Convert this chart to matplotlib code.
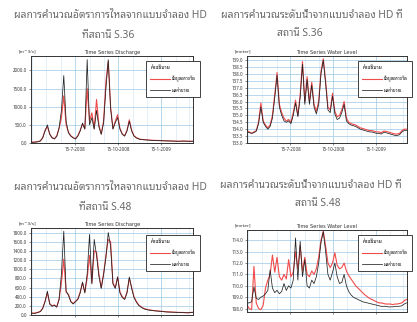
import numpy as np
import pandas as pd
import matplotlib
matplotlib.use("Agg")
import matplotlib.pyplot as plt
import matplotlib.dates as mdates

plt.rcParams['font.family'] = ['Noto Sans Thai Looped', 'Noto Sans Thai', 'Sarabun', 'DejaVu Sans']

# time axis: 5-day steps
dates = pd.date_range("2008-04-12", periods=70, freq="5D")

# S.36 discharge [m3/s]
q36_obs = [20, 25, 30, 40, 60, 150, 350, 450, 250, 150,
           120, 200, 400, 700, 1300, 500, 300, 200, 150, 120,
           200, 350, 520, 400, 1500, 600, 830, 400, 1200, 500,
           250, 600, 1700, 2250, 1000, 400, 600, 780, 400, 250,
           200, 350, 640, 350, 200, 150, 120, 100, 95, 90,
           85, 80, 75, 72, 70, 68, 65, 62, 60, 58,
           55, 52, 50, 48, 50, 55, 52, 50, 48, 50]
q36_sim = [15, 20, 25, 35, 55, 140, 330, 500, 240, 140,
           110, 180, 420, 900, 1860, 600, 280, 190, 140, 110,
           190, 330, 550, 380, 2300, 500, 700, 380, 900, 450,
           240, 550, 1500, 2300, 950, 380, 560, 700, 380, 240,
           190, 330, 600, 330, 190, 140, 110, 95, 90, 85,
           80, 75, 70, 68, 66, 64, 62, 60, 58, 56,
           54, 52, 50, 48, 50, 52, 50, 48, 47, 48]

# S.36 water level [m]
h36_obs = [133.9, 133.8, 133.7, 133.8, 133.9, 134.5, 135.9, 134.6, 134.3, 134.1,
           134.3, 135.0, 136.5, 138.1, 135.8, 135.2, 134.8, 134.6, 134.7, 134.5,
           135.2, 136.1, 135.0, 136.5, 138.9, 136.0, 137.8, 136.0, 137.4, 135.8,
           135.3, 136.0, 138.2, 139.1, 137.5, 135.6, 135.4, 136.6, 135.3, 134.9,
           135.0, 135.4, 136.0, 134.8, 134.5, 134.4, 134.35, 134.3, 134.2, 134.1,
           134.05, 134.0, 133.95, 133.9, 133.9, 133.85, 133.8, 133.8, 133.75, 133.85,
           133.85, 133.8, 133.75, 133.7, 133.65, 133.65, 133.7, 133.9, 134.0, 134.0]
h36_sim = [133.8, 133.75, 133.7, 133.75, 133.85, 134.4, 135.6, 134.5, 134.2, 134.0,
           134.2, 134.8, 136.3, 137.9, 135.6, 135.0, 134.6, 134.5, 134.6, 134.4,
           135.0, 135.9, 134.9, 136.3, 138.7, 135.8, 137.6, 135.8, 137.2, 135.6,
           135.1, 135.8, 138.0, 139.0, 137.3, 135.4, 135.2, 136.4, 135.1, 134.7,
           134.8, 135.2, 135.8, 134.6, 134.4, 134.3, 134.25, 134.2, 134.1, 134.0,
           133.95, 133.9, 133.85, 133.8, 133.8, 133.75, 133.7, 133.7, 133.65, 133.75,
           133.75, 133.7, 133.65, 133.6, 133.55, 133.55, 133.6, 133.8, 133.9, 133.9]

# S.48 discharge [m3/s]
q48_obs = [50, 40, 45, 60, 80, 150, 300, 480, 250, 200,
           220, 180, 350, 700, 1220, 500, 450, 300, 250, 300,
           350, 500, 700, 500, 800, 1300, 700, 1400, 1370, 900,
           600, 900, 1300, 1650, 1600, 700, 600, 830, 500, 400,
           350, 500, 800, 600, 400, 300, 220, 180, 150, 130,
           120, 110, 100, 95, 90, 85, 80, 75, 70, 68,
           65, 62, 60, 58, 55, 55, 52, 50, 55, 60]
q48_sim = [45, 35, 40, 55, 75, 140, 290, 520, 240, 190,
           210, 170, 340, 900, 1830, 520, 430, 290, 240, 290,
           340, 480, 720, 480, 900, 1760, 680, 1650, 1300, 850,
           580, 880, 1250, 1800, 1500, 680, 580, 830, 480, 380,
           340, 480, 830, 580, 380, 280, 210, 170, 140, 120,
           110, 100, 95, 90, 85, 80, 75, 70, 66, 64,
           62, 60, 58, 56, 54, 52, 50, 48, 52, 56]

# S.48 water level [m]
h48_obs = [108.3, 108.0, 107.9, 111.7, 108.5, 108.0, 107.9, 108.3, 109.8, 110.5,
           111.0, 112.7, 111.2, 112.5, 110.8, 110.5, 111.0, 110.6, 112.3, 110.8,
           111.2, 113.0, 111.5, 113.5, 111.3, 112.5, 111.0, 110.8, 111.3, 111.0,
           111.5, 112.5, 114.0, 114.8, 113.5, 112.0, 111.6, 112.0, 112.9, 111.8,
           111.5, 111.6, 112.0, 111.3, 110.9, 110.6, 110.3, 110.0, 109.8, 109.6,
           109.4, 109.2, 109.05, 108.9, 108.8, 108.7, 108.6, 108.5, 108.5, 108.45,
           108.4, 108.4, 108.4, 108.35, 108.4, 108.4, 108.45, 108.5, 108.7, 108.8]
h48_sim = [108.5, 108.5, 108.6, 109.9, 108.9, 108.8, 109.0, 109.1, 109.3, 109.6,
           111.4, 109.8, 109.4, 109.6, 109.3, 109.5, 110.2, 109.6, 110.0, 109.8,
           110.5, 114.2, 110.5, 113.9, 110.8, 112.3, 110.0, 109.8, 110.5, 110.2,
           110.8, 112.0, 113.8, 114.75, 113.0, 111.0, 110.5, 111.2, 112.0, 110.8,
           110.2, 110.3, 111.0, 110.0, 109.5, 109.2, 109.0, 108.9, 108.8, 108.7,
           108.6, 108.55, 108.5, 108.45, 108.4, 108.35, 108.3, 108.25, 108.2, 108.2,
           108.2, 108.15, 108.15, 108.15, 108.2, 108.2, 108.2, 108.25, 108.4, 108.5]

date_ticks = pd.to_datetime(["2008-07-15", "2008-10-15", "2009-01-15"])
date_labels = ["15-7-2008", "15-10-2008", "15-1-2009"]

titles = [("ผลการคำนวณอัตราการไหลจากแบบจำลอง HD", "ที่สถานี S.36"),
          ("ผลการคำนวณระดับน้ำจากแบบจำลอง HD ที่", "สถานี S.36"),
          ("ผลการคำนวณอัตราการไหลจากแบบจำลอง HD", "ที่สถานี S.48"),
          ("ผลการคำนวณระดับน้ำจากแบบจำลอง HD ที่", "สถานี S.48")]
legend_title = "คำอธิบาย"
obs_label = "ข้อมูลตรวจวัด"
sim_label = "ผลคำนวณ"

W, H = 417, 322
fig = plt.figure(figsize=(W / 100, H / 100), dpi=100)

def px(x, y):
    return x / W, 1 - y / H

def panel(rect, obs, sim, yticks, ylim, sub, unit, t1, t1x, t1y, t1ha, t2, t2x, t2y, leg,
          show_dates=True):
    l, t, r, b = rect
    ax = fig.add_axes([l / W, 1 - b / H, (r - l) / W, (b - t) / H])
    ax.plot(dates, obs, color="#f24b4b", lw=0.8)
    ax.plot(dates, sim, color="#222222", lw=0.55)
    ax.set_xlim(pd.Timestamp("2008-04-12"), pd.Timestamp("2009-03-24"))
    ax.set_ylim(*ylim)
    ax.set_yticks(yticks)
    ax.set_yticklabels(["%.1f" % v for v in yticks])
    ax.set_xticks(date_ticks)
    ax.set_xticklabels(date_labels if show_dates else [])
    ax.xaxis.set_minor_locator(mdates.MonthLocator(bymonthday=15))
    ax.tick_params(labelsize=3.2, length=1.5, width=0.4, pad=1.5, colors="#333333")
    ax.tick_params(which="minor", length=1.0, width=0.3)
    ax.grid(True, which="major", color="#9cc7e6", lw=0.5)
    ax.grid(True, which="minor", axis="x", color="#cfe3f2", lw=0.4)
    for s in ax.spines.values():
        s.set_linewidth(0.7)
        s.set_color("#333333")
    ax.text(0.5, 1.01, sub, transform=ax.transAxes, ha="center", va="bottom",
            fontsize=3.6, color="#333333", family="DejaVu Sans")
    fig.text(*px(l - 12, t - 3), unit, fontsize=3.2, color="#333333",
             family="DejaVu Sans", va="bottom")
    fig.text(*px(t1x, t1y), t1, fontsize=7.4, color="#6a6a6a", ha=t1ha, va="center")
    fig.text(*px(t2x, t2y), t2, fontsize=7.4, color="#6a6a6a", ha="center", va="center")
    lg = ax.legend([ax.lines[0], ax.lines[1]], [obs_label, sim_label],
                   title=legend_title, loc="upper left",
                   bbox_to_anchor=px(*leg), bbox_transform=fig.transFigure,
                   fontsize=3.1, title_fontsize=3.7, alignment="left",
                   frameon=True, fancybox=False, edgecolor="#222222",
                   framealpha=1, borderpad=1.0, labelspacing=1.3,
                   handlelength=4.5, handletextpad=0.4)
    lg.get_frame().set_linewidth(0.6)
    return ax

panel((31, 56, 193, 143), q36_obs, q36_sim, [0, 500, 1000, 1500, 2000], (0, 2400),
      "Time Series Discharge", "[m^3/s]",
      titles[0][0], 110, 15, "center", titles[0][1], 108, 36, (144, 59))
panel((247, 56, 407, 143), h36_obs, h36_sim, np.arange(133.0, 139.01, 0.5), (133.0, 139.3),
      "Time Series Water Level", "[meter]",
      titles[1][0], 221, 15, "left", titles[1][1], 300, 34, (356, 59))
panel((31, 228, 193, 315), q48_obs, q48_sim, np.arange(0, 1801, 200), (0, 1900),
      "Time Series Discharge", "[m^3/s]",
      titles[2][0], 110, 188, "center", titles[2][1], 105, 207, (144, 233),
      show_dates=False)
panel((247, 230, 407, 312), h48_obs, h48_sim, np.arange(108.0, 114.01, 1.0), (107.7, 114.9),
      "Time Series Water Level", "[meter]",
      titles[3][0], 220, 185, "left", titles[3][1], 318, 203, (356, 233),
      show_dates=False)

fig.savefig("out.png", dpi=100)
